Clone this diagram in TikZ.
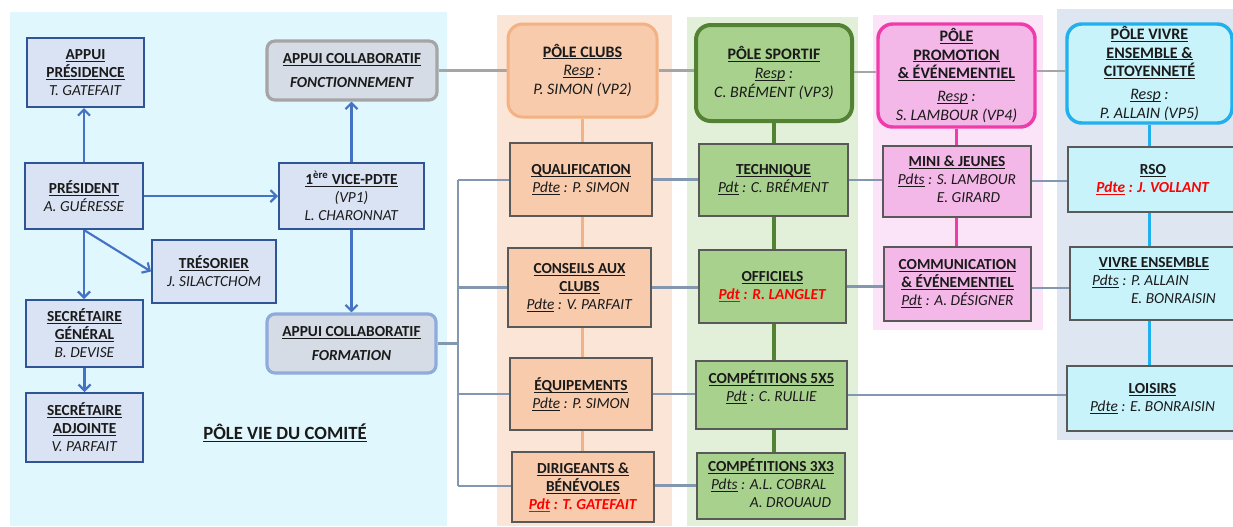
\documentclass[tikz,border=0pt]{standalone}
\usepackage{fontspec}
\setmainfont{Carlito}
\usetikzlibrary{arrows.meta}
\definecolor{leftbg}{HTML}{E0F7FD}
\definecolor{lfill}{HTML}{DAE3F3}
\definecolor{lborder}{HTML}{2F5597}
\definecolor{arrowc}{HTML}{4472C4}
\definecolor{afill}{HTML}{D6DCE5}
\definecolor{fonctborder}{HTML}{A5A5A5}
\definecolor{formborder}{HTML}{8FAADC}
\definecolor{clubbg}{HTML}{FBE5D6}
\definecolor{clubfill}{HTML}{F8CBAD}
\definecolor{clubborder}{HTML}{F4B183}
\definecolor{sportbg}{HTML}{E2F0D9}
\definecolor{sportfill}{HTML}{A9D18E}
\definecolor{sportborder}{HTML}{548235}
\definecolor{prombg}{HTML}{FCE4F8}
\definecolor{promfill}{HTML}{F4B8E8}
\definecolor{promborder}{HTML}{F03CAA}
\definecolor{vivbg}{HTML}{DEE6F2}
\definecolor{vivfill}{HTML}{C8F3FB}
\definecolor{vivborder}{HTML}{1FB0EE}
\definecolor{grayline}{HTML}{A5A5A5}
\definecolor{rowline}{HTML}{8497B0}
\definecolor{subborder}{HTML}{595959}
\definecolor{txt}{HTML}{1A1A1A}
\pgfdeclarelayer{bg}
\pgfdeclarelayer{lines}
\pgfsetlayers{bg,lines,main}
\newcommand\und[1]{\setbox0=\hbox{#1}\makebox[0pt][l]{\rule[-1.8pt]{\wd0}{0.75pt}}\box0\relax}
\tikzset{
  sz/.style 2 args={minimum width=#1*0.75pt, minimum height=#2*0.75pt},
  basefont/.style={font=\fontsize{11.5}{13.5}\selectfont, align=center, inner sep=0pt, text=txt},
  lbox/.style={basefont, draw=lborder, fill=lfill, line width=1.5pt},
  abox/.style={basefont, fill=afill, line width=2.4pt, rounded corners=6pt},
  ptop/.style={basefont, font=\fontsize{12}{14.2}\selectfont, rounded corners=11pt},
  sbox/.style={basefont, draw=subborder, line width=0.9pt},
  arr/.style={draw=arrowc, line width=1.6pt, -{Straight Barb[length=4.5pt,width=9pt]}},
  topline/.style={draw=grayline, line width=1.9pt},
  rline/.style={draw=rowline, line width=2pt},
}
\begin{document}
\begin{tikzpicture}[x=0.75pt,y=-0.75pt]
\useasboundingbox (0,0) rectangle (1233,526);
\begin{pgfonlayer}{bg}
  \fill[white] (0,0) rectangle (1233,526);
  \fill[leftbg] (10,12) rectangle (447,526);
  \fill[clubbg] (497,15) rectangle (672,526);
  \fill[sportbg] (687,17) rectangle (858,526);
  \fill[prombg] (873,15) rectangle (1043,330);
  \fill[vivbg] (1057,9) rectangle (1233,440);
\end{pgfonlayer}

% left panel
\node[lbox,sz={117}{69}] (apres) at (85.5,72.5) {\textbf{\und{APPUI}}\\\textbf{\und{PRÉSIDENCE}}\\\textit{T. GATEFAIT}};
\node[lbox,sz={118}{66}] (pres) at (84,196) {\textbf{\und{PRÉSIDENT}}\\\textit{A. GUÉRESSE}};
\node[lbox,sz={145}{66}] (vp1) at (351.5,196) {\textbf{\und{1\textsuperscript{ère} VICE-PDTE}}\\\textit{(VP1)}\\\textit{L. CHARONNAT}};
\node[lbox,sz={124}{63}] (treso) at (214,271.5) {\textbf{\und{TRÉSORIER}}\\\textit{J. SILACTCHOM}};
\node[lbox,sz={117}{67}] (sg) at (84.5,333.5) {\textbf{\und{SECRÉTAIRE}}\\\textbf{\und{GÉNÉRAL}}\\\textit{B. DEVISE}};
\node[lbox,sz={117}{69}] (sa) at (84.5,427.5) {\textbf{\und{SECRÉTAIRE}}\\\textbf{\und{ADJOINTE}}\\\textit{V. PARFAIT}};
\node[abox,draw=fonctborder,sz={170}{59}] (fonct) at (352,70.5) {\textbf{\und{APPUI COLLABORATIF}}\\[5pt]\textbf{\textit{FONCTIONNEMENT}}};
\node[abox,draw=formborder,sz={169}{59}] (form) at (351.5,343.5) {\textbf{\und{APPUI COLLABORATIF}}\\[5pt]\textbf{\textit{FORMATION}}};
\node[font=\fontsize{14}{16}\selectfont\bfseries, inner sep=0pt, text=txt] (pvc) at (285,433) {\und{PÔLE VIE DU COMITÉ}};

% pole clubs
\node[ptop, fill=clubfill, draw=clubborder, line width=2.25pt, sz={149}{93}] (pclubs) at (582.5,70.5) {\textbf{\und{PÔLE CLUBS}}\\\textit{\und{Resp} :}\\\textit{P. SIMON (VP2)}};
\node[sbox, fill=clubfill, sz={142}{73}] (qual) at (581,179.5) {\textbf{\und{QUALIFICATION}}\\\textit{\und{Pdte} : P. SIMON}};
\node[sbox, fill=clubfill, sz={143}{79}] (cons) at (579.5,287.5) {\textbf{\und{CONSEILS AUX}}\\\textbf{\und{CLUBS}}\\\textit{\und{Pdte} : V. PARFAIT}};
\node[sbox, fill=clubfill, sz={142}{72}] (equip) at (581,394) {\textbf{\und{ÉQUIPEMENTS}}\\\textit{\und{Pdte} : P. SIMON}};
\node[sbox, fill=clubfill, sz={142}{70}] (dirig) at (583,487) {\textbf{\und{DIRIGEANTS \&}}\\\textbf{\und{BÉNÉVOLES}}\\\textcolor{red}{\textbf{\textit{\und{Pdt} : T. GATEFAIT}}}};

% pole sportif
\node[ptop, fill=sportfill, draw=sportborder, line width=3pt, sz={156}{96}] (psport) at (774,73) {\textbf{\und{PÔLE SPORTIF}}\\\textit{\und{Resp} :}\\\textit{C. BRÉMENT (VP3)}};
\node[sbox, fill=sportfill, sz={149}{72}] (tech) at (773.5,180) {\textbf{\und{TECHNIQUE}}\\\textit{\und{Pdt} : C. BRÉMENT}};
\node[sbox, fill=sportfill, sz={147}{73}] (offi) at (772.5,286.5) {\textbf{\und{OFFICIELS}}\\\textcolor{red}{\textbf{\textit{\und{Pdt} : R. LANGLET}}}};
\node[sbox, fill=sportfill, sz={151}{68}] (c5) at (771.5,395) {\textbf{\und{COMPÉTITIONS 5X5}}\\\textit{\und{Pdt} : C. RULLIE}\\\mbox{}};
\node[sbox, fill=sportfill, sz={148}{66}] (c3) at (771,486) {\textbf{\und{COMPÉTITIONS 3X3}}\\\begin{tabular}[t]{@{}l@{ }l@{}}\textit{\und{Pdts} :} & \textit{A.L. COBRAL}\\ & \textit{A. DROUAUD}\end{tabular}};

% pole promotion
\node[ptop, fill=promfill, draw=promborder, line width=2.6pt, sz={157}{103}] (pprom) at (956.5,75.5) {\textbf{\und{PÔLE}}\\\textbf{\und{PROMOTION}}\\\textbf{\und{\& ÉVÉNEMENTIEL}}\\[3pt]\textit{\und{Resp} :}\\\textit{S. LAMBOUR (VP4)}};
\node[sbox, fill=promfill, sz={148}{71}] (mini) at (957,181.5) {\textbf{\und{MINI \& JEUNES}}\\\begin{tabular}[t]{@{}l@{ }l@{}}\textit{\und{Pdts} :} & \textit{S. LAMBOUR}\\ & \textit{E. GIRARD}\end{tabular}};
\node[sbox, fill=promfill, sz={147}{74}] (comm) at (957.5,284) {\textbf{\und{COMMUNICATION}}\\\textbf{\und{\& ÉVÉNEMENTIEL}}\\\textit{\und{Pdt} : A. DÉSIGNER}};

% pole vivre ensemble
\node[ptop, fill=vivfill, draw=vivborder, line width=2.6pt, sz={165}{99}] (pviv) at (1149.5,73.5) {\textbf{\und{PÔLE VIVRE}}\\\textbf{\und{ENSEMBLE \&}}\\\textbf{\und{CITOYENNETÉ}}\\[3pt]\textit{\und{Resp} :}\\\textit{P. ALLAIN (VP5)}};
\node[sbox, fill=vivfill, sz={170}{65}] (rso) at (1153,179.5) {\textbf{\und{RSO}}\\\textcolor{red}{\textbf{\textit{\und{Pdte} : J. VOLLANT}}}};
\node[sbox, fill=vivfill, sz={168}{73}] (vivens) at (1154,283.5) {\textbf{\und{VIVRE ENSEMBLE}}\\\begin{tabular}[t]{@{}l@{ }l@{}}\textit{\und{Pdts} :} & \textit{P. ALLAIN}\\ & \textit{E. BONRAISIN}\end{tabular}};
\node[sbox, fill=vivfill, sz={171}{65}] (lois) at (1152.5,398.5) {\textbf{\und{LOISIRS}}\\\textit{\und{Pdte} : E. BONRAISIN}};

\coordinate (bustop) at (458,180);
\coordinate (busbot) at (458,486);

\begin{pgfonlayer}{lines}
  % arrows of left panel
  \draw[arr] (pres.north) -- (pres.north |- apres.south);
  \draw[arr] (pres.east) -- (vp1.west);
  \draw[arr] (vp1.north) -- (vp1.north |- fonct.south);
  \draw[arr] (vp1.south) -- (vp1.south |- form.north);
  \draw[arr] (pres.south) -- (pres.south |- sg.north);
  \draw[arr] (pres.south) -- (treso.west);
  \draw[arr] (sg.south) -- (sg.south |- sa.north);
  % top gray line between poles
  \draw[topline] (fonct.east) -- (fonct.east -| pclubs.west);
  \draw[topline] (pclubs.east) -- (pclubs.east -| psport.west);
  \draw[topline] ([yshift=0.8pt]psport.east) -- ([yshift=0.8pt]psport.east -| pprom.west);
  \draw[topline] ([yshift=1.5pt]psport.east -| pprom.east) -- ([yshift=1.5pt]psport.east -| pviv.west);
  % vertical pole lines
  \draw[draw=clubborder, line width=2.2pt] (pclubs.south) -- (pclubs.south |- dirig.north);
  \draw[draw=sportborder, line width=2.4pt] (psport.south) -- (psport.south |- c3.north);
  \draw[draw=promborder, line width=2.2pt] (pprom.south) -- (pprom.south |- comm.north);
  \draw[draw=vivborder, line width=2.2pt] (pviv.south) -- (pviv.south |- lois.north);
  % bus
  \draw[rline] (bustop) -- (busbot);
  \draw[rline] (form.east) -- (form.east -| bustop);
  \draw[rline] (bustop) -- (bustop -| qual.west);
  \draw[rline] (cons.west -| bustop) -- (cons.west);
  \draw[rline] (equip.west -| bustop) -- (equip.west);
  \draw[rline] (busbot) -- (busbot -| dirig.west);
  % rows
  \draw[rline] (qual.east) -- (qual.east -| tech.west);
  \draw[rline] (tech.east) -- (tech.east -| mini.west);
  \draw[rline] ([yshift=0.4pt]mini.east) -- ([yshift=0.4pt]mini.east -| rso.west);
  \draw[rline] (cons.east) -- (cons.east -| offi.west);
  \draw[rline] (offi.east) -- (offi.east -| comm.west);
  \draw[rline] ([yshift=-3pt]comm.east) -- ([yshift=-3pt]comm.east -| vivens.west);
  \draw[rline] (equip.east) -- (equip.east -| c5.west);
  \draw[rline] (c5.east) -- (c5.east -| lois.west);
  \draw[rline] ([yshift=1pt]dirig.east) -- ([yshift=1pt]dirig.east -| c3.west);
\end{pgfonlayer}
\end{tikzpicture}
\end{document}
